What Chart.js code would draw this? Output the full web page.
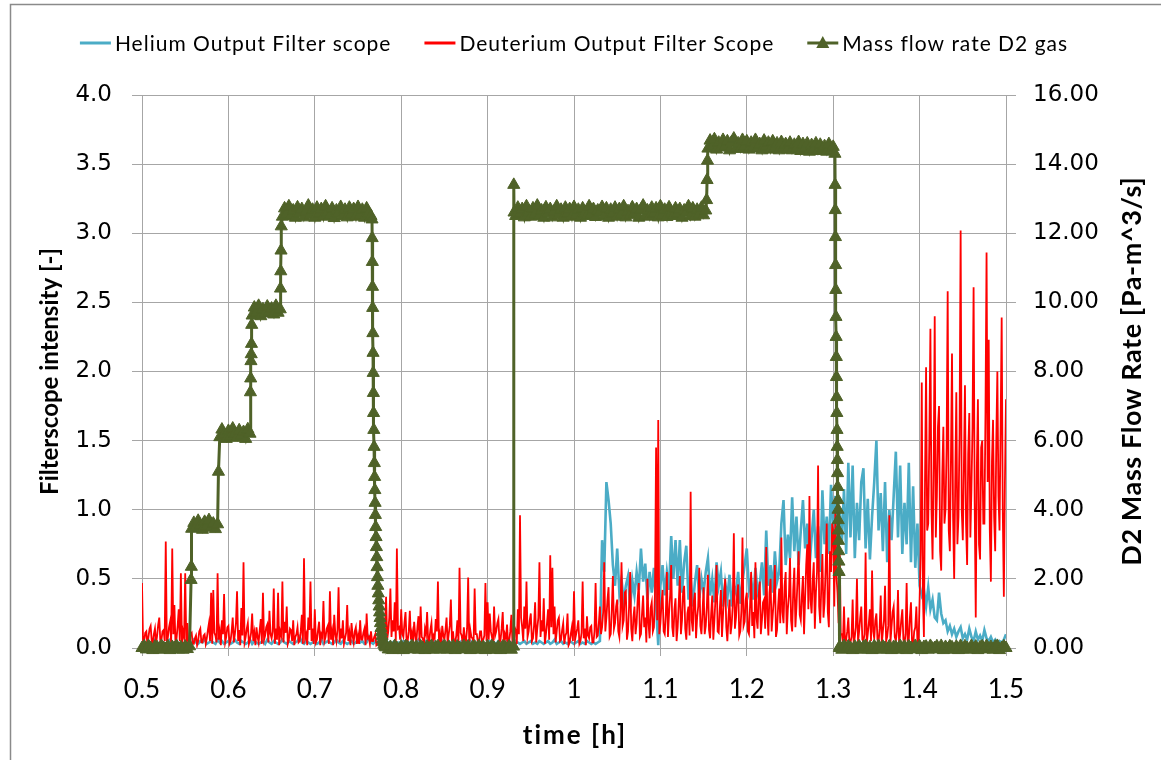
<!DOCTYPE html>
<html>
<head>
<meta charset="utf-8">
<script src="https://cdn.jsdelivr.net/npm/chart.js@4.4.1/dist/chart.umd.min.js"></script>
<style>
  html, body { margin: 0; padding: 0; background: #fff; }
  #wrap { width: 1161px; height: 760px; }
</style>
</head>
<body>
<div id="wrap"><canvas id="filterChart" width="1161" height="760"></canvas></div>
<script>
// samples start at 0.5 h; helium + flow every 0.0025 h, deuterium every 0.00125 h
const timeStart = 0.5;
const timeStep = 0.0025;
const deuteriumStep = 0.00125;

const heliumScope = [
  0.03,0.04,0.03,0.05,0.04,0.03,0.06,0.04,0.03,0.05,0.04,0.03,0.04,0.06,0.03,0.04,0.05,0.03,0.04,0.03,
  0.04,0.05,0.03,0.04,0.06,0.04,0.03,0.05,0.04,0.07,0.03,0.04,0.05,0.04,0.03,0.06,0.04,0.05,0.03,0.04,
  0.05,0.03,0.04,0.06,0.04,0.03,0.05,0.04,0.03,0.04,0.06,0.03,0.05,0.04,0.03,0.04,0.05,0.03,0.06,0.04,
  0.03,0.05,0.04,0.03,0.04,0.06,0.04,0.03,0.05,0.04,0.03,0.04,0.05,0.08,0.04,0.03,0.05,0.04,0.03,0.04,
  0.05,0.03,0.04,0.06,0.03,0.04,0.05,0.04,0.03,0.04,0.06,0.04,0.03,0.05,0.04,0.03,0.04,0.05,0.03,0.04,
  0.06,0.04,0.05,0.03,0.04,0.08,0.04,0.03,0.05,0.04,0.03,0.04,0.03,0.05,0.04,0.03,0.04,0.05,0.03,0.04,
  0.03,0.05,0.04,0.03,0.04,0.05,0.03,0.04,0.06,0.03,0.04,0.05,0.03,0.04,0.03,0.05,0.04,0.03,0.04,0.05,
  0.03,0.04,0.05,0.03,0.04,0.06,0.03,0.04,0.05,0.03,0.04,0.03,0.05,0.04,0.03,0.04,0.05,0.03,0.04,0.03,
  0.04,0.05,0.03,0.04,0.03,0.05,0.04,0.03,0.04,0.05,0.03,0.04,0.03,0.05,0.04,0.03,0.04,0.05,0.03,0.04,
  0.05,0.03,0.04,0.03,0.05,0.04,0.03,0.04,0.05,0.03,0.04,0.06,0.03,0.04,0.05,0.03,0.04,0.03,0.05,0.04,
  0.03,0.04,0.05,0.03,0.04,0.03,0.05,0.04,0.03,0.04,0.03,0.04,0.05,0.78,0.55,1.20,1.07,0.9,0.6,0.45,
  0.72,0.4,0.5,0.33,0.45,0.52,0.3,0.49,0.38,0.55,0.42,0.72,0.48,0.61,0.35,0.55,0.4,0.58,0.3,0.02,
  0.45,0.6,0.38,0.55,0.42,0.81,0.5,0.78,0.45,0.78,0.4,0.62,0.74,0.35,0.52,0.3,0.48,0.6,0.36,0.5,
  0.4,0.55,0.65,0.38,0.5,0.33,0.62,0.45,0.55,0.3,0.47,0.36,0.53,0.3,0.45,0.4,0.55,0.32,0.48,0.6,
  0.72,0.42,0.5,0.35,0.58,0.4,0.46,0.62,0.38,0.85,0.45,0.6,0.4,0.7,0.48,0.55,0.9,1.07,0.6,0.82,
  0.65,1.09,0.7,0.95,0.6,0.85,1.07,0.72,0.9,0.58,0.8,1.0,0.65,0.88,0.55,1.14,0.75,0.95,0.68,1.18,
  0.85,1.1,0.62,1.0,0.75,1.15,0.68,1.34,0.8,1.32,0.65,1.05,0.78,1.2,1.3,0.72,1.08,0.64,0.95,1.2,
  1.5,0.85,1.12,0.7,1.2,0.62,1.0,0.78,1.1,1.42,0.8,1.32,0.68,1.05,0.75,1.34,0.62,1.17,0.58,0.9,
  0.45,0.38,0.42,0.3,0.44,0.28,0.35,0.22,0.2,0.4,0.25,0.18,0.2,0.12,0.16,0.1,0.14,0.08,0.12,0.15,
  0.07,0.1,0.06,0.14,0.08,0.05,0.12,0.06,0.09,0.05,0.13,0.07,0.05,0.08,0.04,0.06,0.03,0.05,0.04,0.06,
  0.1
];

const deuteriumScope = [
  0.47,0.03,0.05,0.11,0.12,0.02,0.08,0.14,0.16,0.05,0.04,0.1,0.14,0.03,0.09,0.17,0.22,0.04,0.06,0.12,0.13,0.05,0.77,0.02,0.08,0.15,0.19,0.04,0.72,0.1,0.31,0.03,0.07,0.16,0.28,0.05,0.54,0.02,0.12,0.08,
  0.54,0.04,0.18,0.02,0.06,0.1,0.11,0.03,0.03,0.07,0.09,0.02,0.05,0.12,0.14,0.04,0.04,0.09,0.1,0.03,0.07,0.13,0.18,0.05,0.40,0.03,0.42,0.11,0.09,0.04,0.54,0.06,0.12,0.02,0.2,0.1,0.39,0.04,0.08,0.15,
  0.16,0.03,0.05,0.12,0.22,0.04,0.1,0.18,0.41,0.05,0.13,0.02,0.29,0.09,0.62,0.04,0.08,0.14,0.18,0.03,0.06,0.11,0.25,0.05,0.11,0.02,0.15,0.08,0.04,0.13,0.21,0.03,0.40,0.06,0.09,0.15,0.17,0.04,0.27,0.1,
  0.07,0.12,0.43,0.03,0.14,0.06,0.40,0.02,0.12,0.09,0.48,0.04,0.19,0.11,0.3,0.03,0.06,0.14,0.13,0.05,0.2,0.02,0.08,0.1,0.15,0.04,0.05,0.12,0.24,0.03,0.65,0.07,0.1,0.02,0.22,0.13,0.48,0.05,0.14,0.03,
  0.28,0.04,0.06,0.13,0.19,0.02,0.1,0.08,0.34,0.05,0.08,0.14,0.16,0.03,0.41,0.06,0.12,0.02,0.24,0.1,0.05,0.13,0.44,0.04,0.14,0.07,0.2,0.03,0.07,0.11,0.31,0.05,0.11,0.02,0.18,0.09,0.04,0.12,0.15,0.03,
  0.09,0.03,0.2,0.06,0.06,0.11,0.14,0.02,0.25,0.07,0.08,0.03,0.12,0.05,0.05,0.08,0.1,0.02,0.03,0.05,0.06,0.02,0.02,0.04,0.04,0.15,0.37,0.06,0.12,0.22,0.43,0.08,0.2,0.12,0.33,0.05,0.72,0.14,0.15,0.06,
  0.28,0.1,0.08,0.18,0.26,0.04,0.05,0.12,0.27,0.06,0.11,0.03,0.19,0.09,0.04,0.15,0.23,0.05,0.30,0.08,0.07,0.02,0.14,0.1,0.26,0.04,0.05,0.13,0.18,0.03,0.09,0.07,0.21,0.12,0.48,0.04,0.1,0.02,0.16,0.09,
  0.06,0.13,0.22,0.03,0.1,0.16,0.35,0.05,0.12,0.02,0.04,0.09,0.2,0.04,0.58,0.11,0.09,0.03,0.15,0.06,0.05,0.14,0.51,0.02,0.13,0.08,0.07,0.03,0.43,0.1,0.1,0.04,0.04,0.12,0.12,0.02,0.06,0.09,0.47,0.05,
  0.33,0.06,0.25,0.12,0.08,0.03,0.3,0.09,0.12,0.18,0.21,0.04,0.06,0.14,0.26,0.03,0.1,0.07,0.17,0.02,0.05,0.12,0.24,0.04,0.09,0.15,0.13,0.03,0.28,0.1,0.96,0.22,0.15,0.05,0.3,0.14,0.48,0.08,0.12,0.2,
  0.25,0.05,0.07,0.16,0.33,0.04,0.14,0.22,0.62,0.08,0.2,0.12,0.36,0.03,0.1,0.18,0.28,0.06,0.67,0.15,0.58,0.1,0.3,0.04,0.12,0.2,0.22,0.05,0.06,0.13,0.18,0.03,0.09,0.11,0.25,0.02,0.04,0.1,0.15,0.05,
  0.41,0.06,0.1,0.14,0.2,0.03,0.05,0.11,0.48,0.07,0.14,0.02,0.23,0.09,0.07,0.15,0.16,0.04,0.04,0.12,0.47,0.08,0.09,0.18,0.3,0.1,0.15,0.26,0.62,0.12,0.22,0.35,0.44,0.08,0.1,0.28,0.52,0.14,0.18,0.3,
  0.35,0.12,0.08,0.27,0.62,0.16,0.2,0.4,0.41,0.06,0.12,0.3,0.55,0.14,0.05,0.22,0.3,0.1,0.18,0.36,0.47,0.08,0.1,0.25,0.38,0.15,0.22,0.04,0.5,0.18,0.07,0.29,0.33,0.12,0.15,0.4,1.45,0.2,1.65,0.1,
  0.18,0.32,0.42,0.12,0.1,0.24,0.55,0.08,0.25,0.38,0.6,0.15,0.08,0.28,0.36,0.05,0.15,0.33,0.52,0.1,0.2,0.4,0.45,0.14,0.06,0.25,0.3,0.09,1.13,0.2,0.12,0.34,0.4,0.07,0.22,0.3,0.58,0.16,0.1,0.26,
  0.44,0.1,0.16,0.3,0.53,0.13,0.07,0.25,0.38,0.06,0.2,0.36,0.6,0.12,0.11,0.28,0.42,0.08,0.24,0.4,0.5,0.15,0.05,0.22,0.35,0.1,0.17,0.31,0.83,0.14,0.22,0.38,0.46,0.09,0.12,0.27,0.80,0.16,0.19,0.35,
  0.4,0.12,0.1,0.3,0.55,0.16,0.26,0.07,0.62,0.22,0.14,0.38,0.48,0.1,0.2,0.33,0.35,0.14,0.73,0.25,0.09,0.4,0.5,0.12,0.24,0.35,0.6,0.08,0.13,0.3,0.43,0.18,0.80,0.26,0.18,0.45,0.55,0.1,0.28,0.38,
  0.65,0.2,0.12,0.42,0.58,0.15,0.3,0.5,0.7,0.24,0.2,0.38,0.52,0.1,0.36,0.6,0.75,0.28,1.1,0.35,0.25,0.48,0.62,0.14,0.4,0.55,1.32,0.3,0.18,0.45,0.68,0.22,0.33,0.58,0.9,0.26,0.15,0.7,0.55,0.9,
  0.85,0.3,1.0,0.52,0.4,0.18,0.72,0.1,0.1,0.04,0.3,0.02,0.06,0.12,0.22,0.03,0.04,0.08,0.35,0.02,0.08,0.15,0.5,0.04,0.12,0.22,0.3,0.06,0.05,0.1,0.69,0.03,0.1,0.18,0.28,0.05,0.56,0.12,0.07,0.2,
  0.25,0.06,0.04,0.14,0.38,0.03,0.12,0.2,0.45,0.05,0.08,0.16,0.96,0.04,0.15,0.26,0.3,0.08,0.05,0.12,0.42,0.03,0.1,0.2,0.28,0.06,0.03,0.1,0.47,0.02,0.06,0.22,0.33,0.04,0.02,0.12,0.15,0.3,0.04,0.02,
  0.35,0.7,1.92,0.4,0.08,1.2,2.03,0.85,0.9,1.5,2.31,1.0,0.64,1.3,2.4,0.8,1.1,1.6,1.75,0.7,0.56,1.25,1.6,0.9,1.0,1.45,2.58,0.85,0.7,1.35,2.13,0.95,0.5,1.2,1.85,0.75,0.95,1.55,3.02,1.0,
  0.78,1.3,1.9,0.9,0.6,1.4,1.7,0.8,1.15,1.6,2.61,1.05,0.22,1.3,1.8,0.75,0.64,1.45,1.5,0.9,0.9,1.7,2.86,1.2,2.23,0.85,0.48,1.35,1.65,0.95,0.7,1.5,2.0,1.1,0.85,1.6,2.39,1.0,0.37,1.2,
  1.8
];

// D2 mass flow on the helium grid (null = that sample falls inside a fast ramp, listed below)
const flowOnGrid = [
  0,0.05,-0.04,0.06,0,-0.06,0.04,0.02,-0.05,0.06,0,-0.03,0.05,-0.06,0.03,0,0.06,-0.04,0.02,-0.05,
  0.04,-0.03,0.05,3.45,3.62,3.5,3.68,3.55,3.42,3.65,3.52,3.7,3.48,3.6,3.44,3.58,6.1,6.32,6.18,6.05,
  6.28,6.12,6.35,6.2,6.08,6.3,6.15,6.25,6.05,6.33,6.2,9.62,9.85,9.7,9.9,9.6,9.8,9.68,9.88,9.72,
  9.82,9.65,9.9,9.7,9.8,12.48,12.72,12.55,12.78,12.5,12.66,12.45,12.75,12.58,12.7,12.46,12.64,12.8,12.52,12.68,
  12.45,12.74,12.56,12.7,12.48,12.78,12.6,12.5,12.72,12.44,12.66,12.58,12.76,12.5,12.68,12.46,12.74,12.55,12.7,12.48,
  12.76,12.52,12.68,12.45,12.72,12.58,12.5,null,null,null,null,null,null,0.05,-0.04,0.03,-0.06,0.06,0,-0.05,
  0.04,-0.06,0.05,0.02,-0.04,0.06,-0.02,0.03,-0.05,0.05,0,-0.06,0.04,-0.03,0.06,-0.05,0.02,0.05,-0.04,0,
  0.06,-0.05,0.03,-0.02,0.05,-0.06,0.04,0,-0.04,0.06,-0.03,0.05,-0.06,0.02,0.04,-0.05,0.06,-0.02,0.03,-0.06,
  0.05,-0.04,0.06,0,-0.05,0.03,-0.06,0.04,0.02,-0.03,0.05,-0.05,0.04,12.5,12.74,12.56,12.7,12.46,12.78,12.6,
  12.48,12.72,12.55,12.8,12.5,12.66,12.45,12.75,12.58,12.7,12.46,12.64,12.78,12.52,12.68,12.45,12.74,12.56,12.7,12.48,
  12.76,12.52,12.68,12.45,12.72,12.58,12.5,12.78,12.55,12.7,12.47,12.66,12.6,12.76,12.5,12.72,12.45,12.68,12.56,12.74,
  12.48,12.7,12.55,12.78,12.46,12.64,12.52,12.75,12.58,12.7,12.45,12.68,12.8,12.5,12.66,12.48,12.74,12.56,12.72,12.46,
  12.78,12.52,12.68,12.47,12.75,12.58,12.5,12.72,12.56,12.7,12.45,12.66,12.6,12.78,12.5,12.72,12.48,12.68,12.55,12.74,
  12.52,12.66,14.45,14.68,14.5,14.72,14.42,14.62,14.48,14.7,14.52,14.66,14.4,14.64,14.74,14.46,14.6,14.44,14.7,14.5,
  14.66,14.42,14.62,14.48,14.7,14.45,14.58,14.4,14.68,14.5,14.62,14.42,14.66,14.46,14.6,14.4,14.64,14.48,14.58,14.42,
  14.62,14.4,14.56,14.44,14.64,14.38,14.58,14.46,14.6,14.36,14.55,14.42,14.6,14.38,14.56,14.44,14.52,14.36,14.58,14.4,
  14.5,null,null,0.04,-0.05,0.06,-0.03,0.05,0,-0.06,0.04,-0.02,0.05,-0.05,0.03,0.06,-0.04,0.02,-0.06,0.05,
  -0.03,0.06,-0.05,0.04,0,-0.04,0.05,-0.06,0.03,0.02,-0.05,0.06,-0.02,0.04,-0.06,0.05,0,-0.04,0.06,-0.03,
  0.05,-0.06,0.03,0.04,-0.05,0.06,-0.02,0,0.05,-0.04,0.06,-0.06,0.03,-0.03,0.05,0.02,-0.05,0.04,-0.06,0.06,
  -0.04,0.05,0,-0.05,0.06,-0.03,0.04,-0.06,0.02,0.05,-0.04,0.06,-0.02,0.03,-0.05,0.04,0.06,-0.06,0,0.05,
  0
];

// fast flow ramps, logged at their own times [h]
const rampTime = [
  0.5568,0.5571,
  0.5885,
  0.6255,0.6258,0.6261,0.6264,0.6267,0.6270,
  0.6603,0.6606,0.6609,0.6612,
  0.7662,0.7664,0.7666,0.7668,0.7670,0.7672,0.7674,0.7676,0.7678,0.7680,0.7683,0.7686,0.7689,0.7692,0.7695,0.7698,0.7701,0.7705,0.7709,
  0.7713,0.7717,0.7721,0.7725,0.7730,0.7735,0.7740,0.7745,0.7750,0.7755,0.7760,0.7766,0.7772,0.7778,0.7785,0.7792,0.7800,0.7810,0.7820,
  0.9303,0.9306,
  1.1535,1.1540,1.1545,
  1.3020,1.3022,1.3024,1.3026,1.3028,1.3030,1.3032,1.3034,1.3036,1.3038,1.3040,1.3042,1.3044,
  1.3046,1.3048,1.3050,1.3052,1.3054,1.3056,1.3058,1.3060,1.3062,1.3064,1.3066,1.3068,1.3072
];
const rampRate = [
  1.97,2.35,
  5.1,
  7.4,7.8,8.3,8.5,8.8,9.35,
  10.4,10.9,11.5,12.2,
  12.4,11.86,11.17,10.45,9.84,9.11,8.54,7.96,7.38,6.8,6.31,5.82,5.35,4.95,4.57,4.2,3.85,3.5,3.21,
  2.92,2.63,2.34,2.05,1.8,1.58,1.38,1.2,1.03,0.87,0.72,0.58,0.46,0.35,0.25,0.17,0.1,0.05,0.02,
  13.4,12.6,
  12.96,13.54,14.1,
  14.3,13.4,12.67,11.89,11.08,10.36,9.58,9.0,8.42,7.84,7.26,6.8,6.31,
  5.82,5.44,5.06,4.66,4.28,4.0,3.7,3.4,3.1,2.8,2.5,2.2,0
];

const xTicks = { min: 0.5, max: 1.5, step: 0.1 };
const leftTicks = { min: 0, max: 4, step: 0.5 };
const rightTicks = { min: 0, max: 16, step: 2 };

const seriesNames = ['Helium Output Filter scope', 'Deuterium Output Filter Scope', 'Mass flow rate D2 gas'];
const seriesColors = ['#4bacc6', '#ff0000', '#4f6228'];
const axisTitles = { x: 'time [h]', y: 'Filterscope intensity [-]', y1: 'D2 Mass Flow Rate [Pa-m^3/s]' };

const gridGray = '#a6a6a6';

function gridPoints(values, step) {
  return values
    .map((v, i) => ({ x: timeStart + i * step, y: v }))
    .filter((p) => p.y !== null);
}

const flowPoints = gridPoints(flowOnGrid, timeStep)
  .concat(rampTime.map((t, i) => ({ x: t, y: rampRate[i] })))
  .sort((a, b) => a.x - b.x);

// white page + thin chart frame like the office chart border
const framePlugin = {
  id: 'frame',
  beforeDraw(chart) {
    const ctx = chart.ctx;
    ctx.save();
    ctx.fillStyle = '#fff';
    ctx.fillRect(0, 0, chart.width, chart.height);
    ctx.strokeStyle = '#8a8a8a';
    ctx.lineWidth = 1.5;
    ctx.strokeRect(10.5, 4.5, chart.width + 40, chart.height + 40);
    ctx.restore();
  }
};

function drawText(ctx, text, x, y, font, spacing, angle) {
  ctx.save();
  ctx.translate(x, y);
  if (angle) ctx.rotate(angle);
  ctx.font = font;
  ctx.letterSpacing = spacing + 'px';
  ctx.textAlign = 'center';
  ctx.textBaseline = 'middle';
  ctx.fillStyle = '#000';
  ctx.fillText(text, spacing / 2, 0);
  ctx.restore();
}

// legend row on top and the three axis titles
const labelsPlugin = {
  id: 'labels',
  afterDraw(chart) {
    const ctx = chart.ctx;
    const area = chart.chartArea;
    ctx.save();
    ctx.font = '21px Lato';
    ctx.letterSpacing = '1px';
    ctx.textBaseline = 'middle';
    const sym = 31, gap = 4, itemGap = 33, y = 43;
    const items = chart.data.datasets.map((ds) => ({
      label: ds.label, color: ds.borderColor, marker: ds.pointRadius > 0,
      w: sym + gap + ctx.measureText(ds.label).width
    }));
    const total = items.reduce((s, it) => s + it.w, 0) + itemGap * (items.length - 1);
    let x = (area.left + area.right) / 2 - total / 2;
    items.forEach((it) => {
      ctx.strokeStyle = it.color;
      ctx.lineWidth = 3;
      ctx.beginPath();
      ctx.moveTo(x, y);
      ctx.lineTo(x + sym, y);
      ctx.stroke();
      if (it.marker) {
        const cx = x + sym / 2;
        ctx.fillStyle = it.color;
        ctx.beginPath();
        ctx.moveTo(cx, y - 7);
        ctx.lineTo(cx + 6.5, y + 5);
        ctx.lineTo(cx - 6.5, y + 5);
        ctx.closePath();
        ctx.fill();
      }
      ctx.fillStyle = '#000';
      ctx.fillText(it.label, x + sym + gap, y + 1);
      x += it.w + itemGap;
    });
    ctx.restore();

    const midY = (area.top + area.bottom) / 2;
    drawText(ctx, axisTitles.y, 50, midY, 'bold 24px Lato', 0, -Math.PI / 2);
    drawText(ctx, axisTitles.y1, 1132, midY, 'bold 27px Lato', 0.6, -Math.PI / 2);
    drawText(ctx, axisTitles.x, (area.left + area.right) / 2, 736, 'bold 26px Lato', 2, 0);
  }
};

new Chart(document.getElementById('filterChart'), {
  type: 'line',
  data: {
    datasets: [
      {
        label: seriesNames[0],
        data: gridPoints(heliumScope, timeStep),
        borderColor: seriesColors[0],
        borderWidth: 2.6,
        pointRadius: 0,
        yAxisID: 'y',
        order: 3
      },
      {
        label: seriesNames[1],
        data: gridPoints(deuteriumScope, deuteriumStep),
        borderColor: seriesColors[1],
        borderWidth: 1.8,
        pointRadius: 0,
        yAxisID: 'y',
        order: 2
      },
      {
        label: seriesNames[2],
        data: flowPoints,
        borderColor: seriesColors[2],
        backgroundColor: seriesColors[2],
        borderWidth: 3,
        pointStyle: 'triangle',
        pointRadius: 7,
        pointBorderWidth: 1,
        pointBackgroundColor: seriesColors[2],
        pointBorderColor: seriesColors[2],
        yAxisID: 'y1',
        order: 1,
        clip: false
      }
    ]
  },
  options: {
    responsive: false,
    animation: false,
    events: [],
    layout: { padding: { top: 95, left: 0, right: 0, bottom: 0 } },
    plugins: { legend: { display: false }, tooltip: { enabled: false } },
    scales: {
      x: {
        type: 'linear',
        min: xTicks.min,
        max: xTicks.max,
        afterFit: (s) => { s.height = 112; },
        ticks: {
          stepSize: xTicks.step,
          padding: 18,
          color: '#000',
          font: { family: 'Lato', size: 26 },
          callback: (v) => String(+v.toFixed(1))
        },
        grid: { color: gridGray, tickLength: 8 },
        border: { color: gridGray }
      },
      y: {
        position: 'left',
        min: leftTicks.min,
        max: leftTicks.max,
        afterFit: (s) => { s.width = 142; },
        ticks: {
          stepSize: leftTicks.step,
          padding: 20,
          color: '#000',
          font: { family: 'DejaVu Sans', size: 23 },
          callback: (v) => v.toFixed(1)
        },
        grid: { color: gridGray, tickLength: 10 },
        border: { color: gridGray }
      },
      y1: {
        position: 'right',
        min: rightTicks.min,
        max: rightTicks.max,
        afterFit: (s) => { s.width = 155; },
        ticks: {
          stepSize: rightTicks.step,
          padding: 17,
          color: '#000',
          font: { family: 'DejaVu Sans', size: 23 },
          callback: (v) => v.toFixed(2)
        },
        grid: { drawOnChartArea: false, color: gridGray, tickLength: 10 },
        border: { color: gridGray }
      }
    }
  },
  plugins: [framePlugin, labelsPlugin]
});
</script>
</body>
</html>
